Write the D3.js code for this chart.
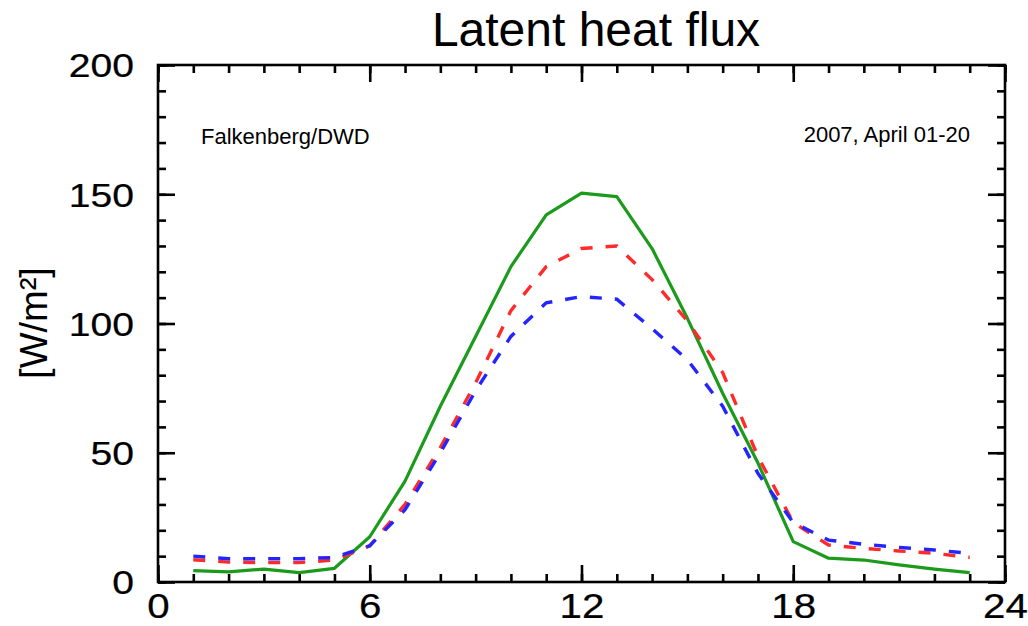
<!DOCTYPE html>
<html>
<head>
<meta charset="utf-8">
<script src="https://cdn.jsdelivr.net/npm/d3@7"></script>
<style>
  html, body { margin: 0; padding: 0; background: #fff; }
  svg { display: block; }
  text { font-family: "Liberation Sans", Arial, Helvetica, sans-serif; fill: #000; }
</style>
</head>
<body>
<svg id="chart" width="1028" height="626"></svg>
<script>
// ---- data ----
const hours = [1,2,3,4,5,6,7,8,9,10,11,12,13,14,15,16,17,18,19,20,21,22,23];
const greenSeries = [4.4,3.9,5.0,3.6,5.3,17.5,39,68,95,122,142,150.4,149.1,129,102,73,46,15.6,9.2,8.5,6.6,5.0,3.6];
const redSeries   = [8.6,7.7,7.5,7.5,8.5,14,30,52,77,105,122,129,130,117,101,81,48.5,23,14.3,13,12,11.1,9.5];
const blueSeries  = [10,9,9,9,9.5,14,28,50,74,95,108,110.4,109.4,98,86,68,42,23,16.2,14.6,13.4,12.4,11.1];
const xMajorTicks = [0,6,12,18,24];
const yMajorTicks = [0,50,100,150,200];
const titleText = "Latent heat flux";
const yLabelText = "[W/m²]";
const noteLeft = "Falkenberg/DWD";
const noteRight = "2007, April 01-20";

// ---- layout ----
const L = 158, R = 1005, T = 65, B = 582;
const svg = d3.select("#chart");
const x = d3.scaleLinear().domain([0,24]).range([L,R]);
const y = d3.scaleLinear().domain([0,200]).range([B,T]);

const minorX = d3.range(0,25,1);
const minorY = d3.range(0,201,10);
const axisStroke = 2.6;

function styleAxis(g) {
  g.select(".domain").remove();
  g.selectAll(".tick line").attr("stroke","#000").attr("stroke-width",axisStroke);
}

// minor ticks
svg.append("g").attr("transform",`translate(0,${B})`)
  .call(d3.axisBottom(x).tickValues(minorX).tickFormat("").tickSize(-8).tickSizeOuter(0)).call(styleAxis);
svg.append("g").attr("transform",`translate(0,${T})`)
  .call(d3.axisTop(x).tickValues(minorX).tickFormat("").tickSize(-8).tickSizeOuter(0)).call(styleAxis);
svg.append("g").attr("transform",`translate(${L},0)`)
  .call(d3.axisLeft(y).tickValues(minorY).tickFormat("").tickSize(-8).tickSizeOuter(0)).call(styleAxis);
svg.append("g").attr("transform",`translate(${R},0)`)
  .call(d3.axisRight(y).tickValues(minorY).tickFormat("").tickSize(-8).tickSizeOuter(0)).call(styleAxis);

// major ticks
const sx = 1.15;
const gxb = svg.append("g").attr("transform",`translate(0,${B})`)
  .call(d3.axisBottom(x).tickValues(xMajorTicks).tickFormat(d3.format("d")).tickSize(-17).tickSizeOuter(0)).call(styleAxis);
gxb.selectAll(".tick text")
  .attr("y", 36).attr("dy", 0).attr("x", 0)
  .attr("transform", `scale(${sx},1)`)
  .style("font-size","35px").attr("fill","#000")
  .attr("stroke","#000").attr("stroke-width",0.25);

svg.append("g").attr("transform",`translate(0,${T})`)
  .call(d3.axisTop(x).tickValues(xMajorTicks).tickFormat("").tickSize(-17).tickSizeOuter(0)).call(styleAxis);

const gyl = svg.append("g").attr("transform",`translate(${L},0)`)
  .call(d3.axisLeft(y).tickValues(yMajorTicks).tickFormat(d3.format("d")).tickSize(-17).tickSizeOuter(0)).call(styleAxis);
gyl.selectAll(".tick text")
  .attr("x", -24/sx).attr("dy","0.35em")
  .attr("transform", `scale(${sx},1)`)
  .style("font-size","34px").attr("fill","#000")
  .attr("stroke","#000").attr("stroke-width",0.25);

svg.append("g").attr("transform",`translate(${R},0)`)
  .call(d3.axisRight(y).tickValues(yMajorTicks).tickFormat("").tickSize(-17).tickSizeOuter(0)).call(styleAxis);

// frame
svg.append("rect").attr("x",L).attr("y",T).attr("width",R-L).attr("height",B-T)
  .attr("fill","none").attr("stroke","#000").attr("stroke-width",axisStroke);

// lines
const line = d3.line().x((d,i)=>x(hours[i])).y(d=>y(d));
svg.append("path").datum(greenSeries).attr("d",line)
  .attr("fill","none").attr("stroke","#1b9a1b").attr("stroke-width",3.2).attr("stroke-linejoin","round");
svg.append("path").datum(redSeries).attr("d",line)
  .attr("fill","none").attr("stroke","#ff2b2b").attr("stroke-width",3.4).attr("stroke-dasharray","12,13");
svg.append("path").datum(blueSeries).attr("d",line)
  .attr("fill","none").attr("stroke","#2424ff").attr("stroke-width",3.4).attr("stroke-dasharray","12,13");

// texts
svg.append("text").attr("x",596).attr("y",46).attr("text-anchor","middle")
  .style("font-size","48px").text(titleText);
svg.append("text").attr("transform","translate(47,323) rotate(-90)").attr("text-anchor","middle")
  .style("font-size","38px").text(yLabelText);
svg.append("text").attr("x",201).attr("y",144).style("font-size","22px").text(noteLeft);
svg.append("text").attr("x",970).attr("y",142).attr("text-anchor","end").style("font-size","22px").text(noteRight);
</script>
</body>
</html>
